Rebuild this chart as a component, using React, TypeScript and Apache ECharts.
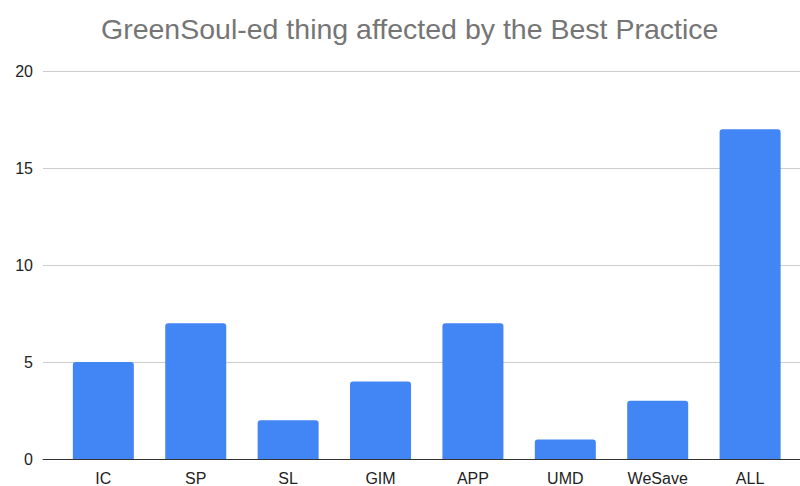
import React, { useEffect, useRef } from "react";
import * as echarts from "echarts";

const categories = ["IC", "SP", "SL", "GIM", "APP", "UMD", "WeSave", "ALL"];
const counts = [5, 7, 2, 4, 7, 1, 3, 17];
const yTicks = [0, 5, 10, 15, 20];

const FONT = "'Liberation Sans', Arial, sans-serif";

export default function App() {
  const ref = useRef<HTMLDivElement>(null);

  useEffect(() => {
    if (!ref.current) return;
    const chart = echarts.init(ref.current, undefined, { renderer: "svg" });
    const positions = categories.map((_, i) => i);
    chart.setOption({
      animation: false,
      backgroundColor: "#ffffff",
      title: {
        text: "GreenSoul-ed thing affected by the Best Practice",
        left: 96,
        top: 9,
        textStyle: {
          fontFamily: FONT,
          fontSize: 28.5,
          fontWeight: "normal",
          color: "#757575",
        },
      },
      grid: { left: 43, right: 0, top: 71, bottom: 26.5, containLabel: false },
      xAxis: {
        type: "value",
        min: -0.653,
        max: 7.54,
        splitLine: { show: false },
        axisLine: { show: true, onZero: false, lineStyle: { color: "#333333", width: 1 } },
        axisTick: { show: false },
        axisLabel: {
          customValues: positions,
          formatter: (v: number) => categories[Math.round(v)] ?? "",
          fontFamily: FONT,
          fontSize: 16,
          color: "#222222",
          margin: 11,
          showMinLabel: true,
          showMaxLabel: true,
        },
      },
      yAxis: {
        type: "value",
        min: yTicks[0],
        max: yTicks[yTicks.length - 1],
        interval: 5,
        axisLine: { show: false },
        axisTick: { show: false },
        splitLine: { lineStyle: { color: "#cccccc", width: 1 } },
        axisLabel: {
          fontFamily: FONT,
          fontSize: 16,
          color: "#222222",
          margin: 10,
        },
      },
      series: [
        {
          type: "bar",
          barWidth: 61,
          data: counts.map((v, i) => [i, v]),
          itemStyle: { color: "#4285f4", borderRadius: [3, 3, 0, 0] },
        },
      ],
    });
    return () => chart.dispose();
  }, []);

  return (
    <div
      ref={ref}
      style={{ position: "fixed", left: 0, top: 0, width: 800, height: 486 }}
    />
  );
}
